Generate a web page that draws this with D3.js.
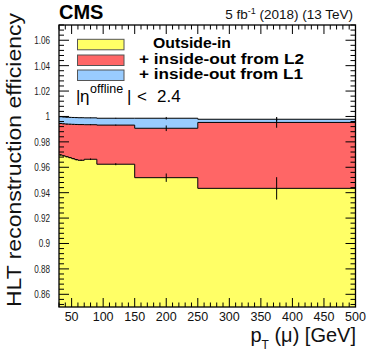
<!DOCTYPE html>
<html><head><meta charset="utf-8">
<script src="https://cdn.jsdelivr.net/npm/d3@7"></script>
<style>
html,body{margin:0;padding:0;background:#fff;}
svg{display:block;font-family:"Liberation Sans",Arial,Helvetica,sans-serif;}
</style></head>
<body><svg id="c" width="374" height="360"></svg>
<script>
// ---- data ----
const binEdges = [30,35,40,45,50,55,60,70,90,150,250,500];
const effOutsideIn = [0.9697,0.9690,0.9683,0.9676,0.9668,0.9660,0.9655,0.9663,0.9624,0.9518,0.9434];
const errOutsideIn = [0.0005,0.0005,0.0005,0.0005,0.0005,0.0005,0.0005,0.0006,0.0008,0.0033,0.0088];
const effPlusL2 = [0.9945,0.9942,0.9940,0.9939,0.9938,0.9937,0.9936,0.9935,0.9932,0.9907,0.9953];
const errPlusL2 = [0.0003,0.0003,0.0003,0.0003,0.0003,0.0003,0.0003,0.0003,0.0004,0.0022,0.0042];
const effPlusL1 = [0.9998,0.9996,0.9994,0.9993,0.9992,0.9991,0.9990,0.9989,0.9986,0.9986,0.9978];
const errPlusL1 = [0.0002,0.0002,0.0002,0.0002,0.0002,0.0002,0.0002,0.0002,0.0003,0.0010,0.0015];
const yMajorTicks = [0.86,0.88,0.90,0.92,0.94,0.96,0.98,1.00,1.02,1.04,1.06];
const xMajorTicks = [50,100,150,200,250,300,350,400,450,500];
const legendLabels = ["Outside-in","+ inside-out from L2","+ inside-out from L1"];
const colors = ["#ffff66","#ff6666","#99ccff"];

const svg = d3.select("#c");
const L = 59, R = 355.5, T = 25, B = 307;
const x = d3.scaleLinear().domain([30,500]).range([L,R]);
const y = d3.scaleLinear().domain([0.85,1.072]).range([B,T]);

function stepData(vals){
  const d = vals.map((v,i)=>({x:binEdges[i], v}));
  d.push({x:binEdges[binEdges.length-1], v:vals[vals.length-1]});
  return d;
}
const layers = [
  {lo: effOutsideIn.map(()=>0.85), hi: effOutsideIn, err: errOutsideIn, c: colors[0]},
  {lo: effOutsideIn, hi: effPlusL2, err: errPlusL2, c: colors[1]},
  {lo: effPlusL2, hi: effPlusL1, err: errPlusL1, c: colors[2]}
];
const g = svg.append("g");
layers.forEach(l=>{
  const lo = stepData(l.lo), hi = stepData(l.hi);
  const data = hi.map((d,i)=>({x:d.x, hi:d.v, lo:lo[i].v}));
  g.append("path").datum(data)
    .attr("d", d3.area().curve(d3.curveStepAfter).x(d=>x(d.x)).y0(d=>y(d.lo)).y1(d=>y(d.hi)))
    .attr("fill", l.c).attr("stroke","none");
});
layers.forEach(l=>{
  g.append("path").datum(stepData(l.hi))
    .attr("d", d3.line().curve(d3.curveStepAfter).x(d=>x(d.x)).y(d=>y(d.v)))
    .attr("fill","none").attr("stroke","#000").attr("stroke-width",1);
  l.hi.forEach((v,i)=>{
    const cx = x((binEdges[i]+binEdges[i+1])/2);
    g.append("line").attr("x1",cx).attr("x2",cx)
      .attr("y1",y(v-l.err[i])).attr("y2",y(v+l.err[i]))
      .attr("stroke","#000").attr("stroke-width",1);
  });
});

// ticks
const yMinor = d3.range(0,56).map(i=>+(0.852+i*0.004).toFixed(3)).filter(v=>v<=1.072);
const xMinor = d3.range(30,501,10);
const tk = svg.append("g").attr("stroke","#000").attr("stroke-width",1);
yMinor.forEach(v=>{
  const isMaj = yMajorTicks.some(m=>Math.abs(m-v)<1e-6);
  const len = isMaj?10:5;
  tk.append("line").attr("x1",L).attr("x2",L+len).attr("y1",y(v)).attr("y2",y(v));
  tk.append("line").attr("x1",R).attr("x2",R-len).attr("y1",y(v)).attr("y2",y(v));
});
xMinor.forEach(v=>{
  const isMaj = xMajorTicks.includes(v);
  const len = isMaj?9:4.5;
  tk.append("line").attr("x1",x(v)).attr("x2",x(v)).attr("y1",B).attr("y2",B-len);
  tk.append("line").attr("x1",x(v)).attr("x2",x(v)).attr("y1",T).attr("y2",T+len);
});
svg.append("rect").attr("x",L).attr("y",T).attr("width",R-L).attr("height",B-T)
  .attr("fill","none").attr("stroke","#000").attr("stroke-width",1.3);

// tick labels
yMajorTicks.forEach(v=>{
  svg.append("g").attr("transform",`translate(50,${y(v)+4}) scale(0.72,1)`)
    .append("text").attr("text-anchor","end").attr("font-size",11.3).attr("fill","#222")
    .text(String(+v.toFixed(2)));
});
xMajorTicks.forEach(v=>{
  svg.append("text").attr("x",x(v)).attr("y",320.5).attr("text-anchor","middle")
    .attr("font-size",12.5).attr("fill","#111").text(String(v));
});

// axis titles
svg.append("text").attr("transform","translate(21,307) rotate(-90)")
  .attr("text-anchor","start").attr("font-size",19.5).attr("fill","#111")
  .attr("textLength",294).attr("lengthAdjust","spacingAndGlyphs")
  .text("HLT reconstruction efficiency");
const xt = svg.append("text").attr("x",356).attr("y",342).attr("text-anchor","end")
  .attr("font-size",20).attr("fill","#111");
xt.append("tspan").text("p");
xt.append("tspan").attr("font-size",12).attr("dy",7).text("T");
xt.append("tspan").attr("dy",-7).text(" (μ) [GeV]");

// header
svg.append("text").attr("x",59).attr("y",18.5).attr("font-size",20).attr("font-weight","bold")
  .attr("fill","#000").text("CMS");
const hd = svg.append("text").attr("x",353).attr("y",18.5).attr("text-anchor","end")
  .attr("font-size",13.5).attr("fill","#111");
hd.append("tspan").text("5 fb");
hd.append("tspan").attr("font-size",9).attr("dy",-5).text("-1");
hd.append("tspan").attr("dy",5).text(" (2018) (13 TeV)");

// legend
const legY = [39.3,55,70];
const legX = [153,139,139];
const legW = [78,165,164];
legendLabels.forEach((s,i)=>{
  svg.append("rect").attr("x",77.5).attr("y",legY[i]).attr("width",46.5).attr("height",10.5)
    .attr("fill",colors[i]).attr("stroke","#555").attr("stroke-width",1);
  svg.append("text").attr("x",legX[i]).attr("y",legY[i]+9).attr("font-size",14.5)
    .attr("font-weight","bold").attr("fill","#000")
    .attr("textLength",legW[i]).attr("lengthAdjust","spacingAndGlyphs").text(s);
});
const eg = svg.append("g").attr("fill","#000");
eg.append("text").attr("x",76).attr("y",102).attr("font-size",17).text("|");
eg.append("text").attr("x",80).attr("y",102).attr("font-size",17).text("η");
eg.append("text").attr("x",90).attr("y",93).attr("font-size",12.5).text("offline");
eg.append("text").attr("x",127).attr("y",102).attr("font-size",17).text("|");
eg.append("text").attr("x",137).attr("y",102).attr("font-size",17).text("<");
eg.append("text").attr("x",157).attr("y",102).attr("font-size",17).text("2.4");
</script></body></html>
